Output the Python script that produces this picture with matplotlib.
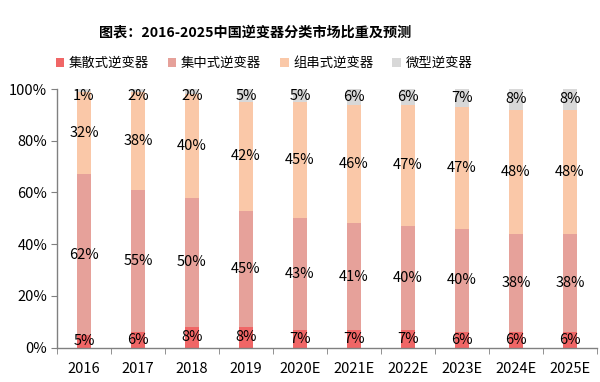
import matplotlib
matplotlib.use("Agg")
import matplotlib.pyplot as plt
import numpy as np
from matplotlib.patches import Patch

plt.rcParams['font.family'] = ['Noto Sans CJK SC', 'DejaVu Sans']

years = ["2016", "2017", "2018", "2019", "2020E", "2021E", "2022E", "2023E", "2024E", "2025E"]
series_names = ["集散式逆变器", "集中式逆变器", "组串式逆变器", "微型逆变器"]
distributed = [5, 6, 8, 8, 7, 7, 7, 6, 6, 6]
central = [62, 55, 50, 45, 43, 41, 40, 40, 38, 38]
string = [32, 38, 40, 42, 45, 46, 47, 47, 48, 48]
micro = [1, 2, 2, 5, 5, 6, 6, 7, 8, 8]
colors = ["#F06666", "#E6A19A", "#FAC8A8", "#D8D8D8"]

title = "图表：2016-2025中国逆变器分类市场比重及预测"

fig = plt.figure(figsize=(6.0, 3.82), dpi=100)
ax = fig.add_axes([0.095, 0.09, 0.9, 0.677])

x = np.arange(len(years))
data = [distributed, central, string, micro]
bottom = np.zeros(len(years))
for vals, col, name in zip(data, colors, series_names):
    v = np.array(vals, dtype=float)
    ax.bar(x, v, 0.27, bottom=bottom, color=col, label=name, zorder=2)
    for xi, b, h in zip(x, bottom, v):
        yc = min(b + h / 2, 100 - 2.8)
        yc = max(yc, 1.8)
        ax.text(xi, yc, f"{int(h)}%", ha='center', va='center', fontsize=10.5, color='black', zorder=3)
    bottom += v

ax.set_xlim(-0.5, len(years) - 0.5)
ax.set_ylim(0, 100)
ax.set_yticks([0, 20, 40, 60, 80, 100])
ax.set_yticklabels([f"{t}%" for t in [0, 20, 40, 60, 80, 100]], fontsize=10.5)
ax.set_xticks(x)
ax.set_xticklabels(years, fontsize=10.5)
ax.tick_params(axis='x', length=0, pad=10)
ax.set_xticks(np.arange(-0.5, len(years), 1.0), minor=True)
ax.tick_params(axis='x', which='minor', length=4, color='#808080', direction='out')
ax.tick_params(axis='y', length=4, color='#808080', direction='out', pad=3)
for s in ['top', 'right']:
    ax.spines[s].set_visible(False)
for s in ['left', 'bottom']:
    ax.spines[s].set_color('#808080')
    ax.spines[s].set_linewidth(1)

fig.text(0.425, 0.915, title, ha='center', va='center', fontsize=10.2, fontweight='bold')

handles = [Patch(facecolor=c, edgecolor='none') for c in colors]
fig.legend(handles, series_names, loc='center', bbox_to_anchor=(0.44, 0.835), ncol=4,
           frameon=False, fontsize=9.6, handlelength=0.65, handleheight=0.65,
           handletextpad=0.35, columnspacing=1.4, borderaxespad=0)

fig.savefig("out.png", dpi=100)
